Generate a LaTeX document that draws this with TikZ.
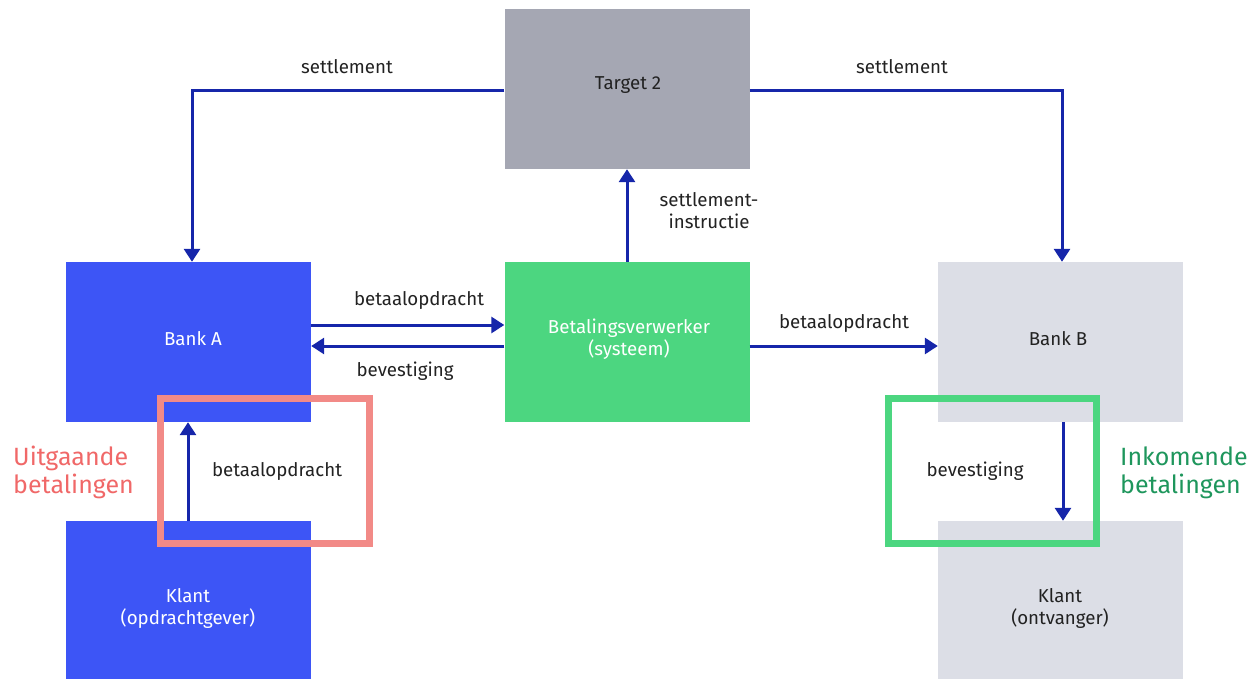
\documentclass[tikz,border=0pt]{standalone}
\usepackage{fontspec}
\setmainfont{Fira Sans}
\usetikzlibrary{arrows.meta}
\definecolor{bankblue}{RGB}{61,85,246}
\definecolor{procgreen}{RGB}{76,214,128}
\definecolor{targetgrey}{RGB}{165,167,179}
\definecolor{lightgrey}{RGB}{220,222,230}
\definecolor{arrowblue}{RGB}{22,38,170}
\definecolor{pinkframe}{RGB}{242,138,135}
\definecolor{pinktext}{RGB}{240,104,104}
\definecolor{greentext}{RGB}{30,150,92}
\definecolor{txt}{RGB}{34,34,34}
\tikzset{
  box/.style={rectangle, inner sep=0pt, minimum width=245pt, minimum height=160pt},
  flow/.style={draw=arrowblue, line width=3pt, -{Triangle[width=16pt,length=13pt]}},
  lbl/.style={text=txt, align=center, font=\fontsize{18.7}{22}\selectfont, inner sep=0pt},
  side/.style={align=left, font=\fontsize{25}{28}\selectfont, inner sep=0pt, anchor=west},
  frame/.style={draw, line width=7pt, rectangle, inner sep=0pt}
}
\begin{document}
\begin{tikzpicture}[x=1pt,y=-1pt]
\useasboundingbox (0,0) rectangle (1247,679);
% boxes
\node[box, fill=bankblue] (bankA) at (188.5,342) {};
\node[box, fill=bankblue] (klantA) at (188.5,601) {};
\node[box, fill=targetgrey] (t2) at (627,89) {};
\node[box, fill=procgreen] (bv) at (627,342) {};
\node[box, fill=lightgrey] (bankB) at (1060.5,342) {};
\node[box, fill=lightgrey] (klantB) at (1060.5,601) {};
% box texts
\node[lbl, text=white] (tBankA) at (193,339) {Bank A};
\node[lbl, text=white] (tKlantA) at (188,608) {Klant\\(opdrachtgever)};
\node[lbl] (tT2) at (628,85) {Target 2};
\node[lbl, text=white] (tBV) at (629,339) {Betalingsverwerker\\(systeem)};
\node[lbl] (tBankB) at (1058,339) {Bank B};
\node[lbl] (tKlantB) at (1060,608) {Klant\\(ontvanger)};
% frames
\node[frame, draw=pinkframe, minimum width=209pt, minimum height=145pt] (fout) at (265,471) {};
\node[frame, draw=procgreen, minimum width=208pt, minimum height=145pt] (fin) at (992.5,471) {};
% connectors
\draw[flow] ([yshift=-2pt]t2.west) -| ([xshift=3.5pt]bankA.north);
\draw[flow] ([yshift=-2pt]t2.east) -| ([xshift=1.5pt]bankB.north);
\draw[flow] (bv.north) -- (t2.south);
\draw[flow] ([yshift=17pt]bankA.east) -- ([yshift=17pt]bv.west);
\draw[flow] ([yshift=-4pt]bv.west) -- ([yshift=-4pt]bankA.east);
\draw[flow] ([yshift=-4pt]bv.east) -- ([yshift=-4pt]bankB.west);
\draw[flow] ([xshift=-0.5pt]klantA.north) -- ([xshift=-0.5pt]bankA.south);
\draw[flow] ([xshift=2.5pt]bankB.south) -- ([xshift=2.5pt]klantB.north);
% labels
\node[lbl] (ls1) at (347,67) {settlement};
\node[lbl] (ls2) at (902,67) {settlement};
\node[lbl] (lsi) at (709,211) {settlement-\\instructie};
\node[lbl] (lb1) at (419,300) {betaalopdracht};
\node[lbl] (lv1) at (405,371) {bevestiging};
\node[lbl] (lb2) at (844,323) {betaalopdracht};
\node[lbl] (lb3) at (277,471) {betaalopdracht};
\node[lbl] (lv2) at (975,471) {bevestiging};
\node[side, text=pinktext] (uit) at (13,472) {Uitgaande\\betalingen};
\node[side, text=greentext] (ink) at (1120,473) {Inkomende\\betalingen};
\end{tikzpicture}
\end{document}
